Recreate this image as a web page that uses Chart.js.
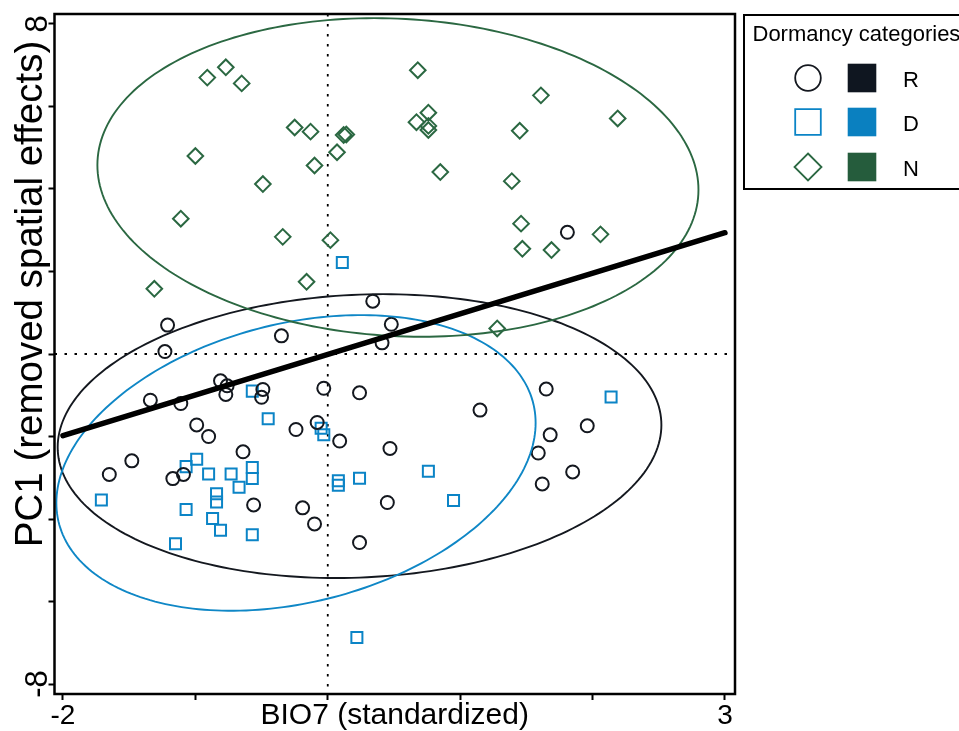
<!DOCTYPE html>
<html><head><meta charset="utf-8">
<script src="https://cdn.jsdelivr.net/npm/chart.js@4/dist/chart.umd.min.js"></script>
<style>html,body{margin:0;padding:0;background:#fff;overflow:hidden}#wrap{width:959px;height:731px;position:relative}</style>
</head><body><div id="wrap"><canvas id="c" width="959" height="731"></canvas></div>
<script>
// ---- data ----
const groups = ['R', 'D', 'N'];
const rX = [1.81,0.34,-1.21,-0.35,0.48,0.41,-1.23,-0.81,-0.76,-0.77,-0.49,-0.50,-0.03,0.24,-1.34,-1.11,-0.99,-0.90,-0.24,-0.08,0.09,-0.64,0.47,-1.48,-1.65,-1.17,-1.09,-0.56,-0.19,-0.10,0.24,0.45,1.15,1.65,1.68,1.59,1.96,1.85,1.62];
const rY = [2.95,1.28,0.70,0.44,0.72,0.27,0.06,-0.65,-0.77,-0.98,-0.86,-1.05,-0.83,-0.94,-1.12,-1.20,-1.72,-2.00,-1.83,-1.66,-2.11,-2.37,-2.29,-2.59,-2.92,-3.02,-2.92,-3.66,-3.73,-4.12,-4.57,-3.60,-1.36,-0.85,-1.96,-2.40,-1.74,-2.86,-3.15];
const dX = [0.11,-0.57,-0.45,-0.05,-0.03,-0.99,-1.07,-0.90,-0.73,-0.57,-0.57,-0.67,-0.84,-0.84,-1.71,-1.07,-0.87,-0.81,-0.57,-1.15,0.08,0.08,0.24,2.14,0.76,0.95,0.22];
const dY = [2.22,-0.90,-1.57,-1.80,-1.96,-2.55,-2.73,-2.91,-2.91,-2.75,-3.02,-3.23,-3.39,-3.59,-3.54,-3.77,-3.99,-4.27,-4.38,-4.60,-3.07,-3.18,-3.01,-1.04,-2.84,-3.55,-6.87];
const nX = [-0.91,-0.77,-0.65,-0.25,-0.13,0.12,0.14,0.07,-1.00,-0.10,-0.49,-1.11,-0.34,0.02,-0.16,-1.31,0.68,1.61,2.19,0.76,0.67,0.76,0.76,1.45,0.85,1.39,1.46,2.06,1.47,1.69,1.28];
const nY = [6.70,6.95,6.56,5.49,5.39,5.31,5.32,4.89,4.80,4.57,4.12,3.28,2.84,2.76,1.75,1.58,6.88,6.27,5.71,5.85,5.62,5.53,5.43,5.41,4.41,4.19,3.16,2.90,2.55,2.52,0.62];
const lineX = [-2, 3];
const lineY = [-1.98, 2.94];
// ellipses (R, D, N): centre, half-width vector (ux, uy), vertical conjugate half-height vy
const ellipseCX = [0.24, -0.24, 0.53];
const ellipseCY = [-1.99, -2.64, 4.28];
const ellipseUX = [2.28, 1.81, 2.27];
const ellipseUY = [0.27, 0.97, -0.30];
const ellipseVY = [3.43, 3.45, 3.85];
const xTicks = [-2, -1, 0, 1, 2, 3];
const xTickLabels = ['-2', '', '', '', '', '3'];
const yTicks = [8, 6, 4, 2, 0, -2, -4, -6, -8];
const yTickLabels = ['8', '', '', '', '', '', '', '', '-8'];
const xRange = [-2.064, 3.076];
const yRange = [-8.242, 8.242];

// ---- styles ----
const FONT = '"Liberation Sans", Arial, Helvetica, sans-serif';
const pointColors = ['#14181f', '#0b84c6', '#2b6842'];
const fillColors = ['#0f1620', '#0a80c0', '#255c3c'];
const ellipseColors = ['#14181f', '#0f87c6', '#2b6842'];
const pointStyles = ['circle', 'rect', 'rectRot'];
const pointRadii = [6.5, 7.8, 7.8];

function pts(xs, ys) { return xs.map((v, i) => ({ x: v, y: ys[i] })); }
const seriesX = [rX, dX, nX], seriesY = [rY, dY, nY];

const datasets = groups.map((g, i) => ({
  type: 'scatter', label: g, data: pts(seriesX[i], seriesY[i]),
  pointStyle: pointStyles[i], pointRadius: pointRadii[i], pointHoverRadius: pointRadii[i],
  pointBorderColor: pointColors[i], pointBackgroundColor: 'rgba(0,0,0,0)', pointBorderWidth: 2,
  showLine: false, order: 1
}));
datasets.push({
  type: 'line', label: 'fit', data: pts(lineX, lineY), borderColor: '#000', borderWidth: 5.5,
  pointRadius: 0, borderCapStyle: 'round', fill: false, tension: 0, order: -1
});

const extras = {
  id: 'extras',
  beforeDatasetsDraw(chart) {
    const { ctx, chartArea: a, scales: { x, y } } = chart;
    ctx.save();
    ctx.strokeStyle = '#000'; ctx.lineWidth = 1.8; ctx.setLineDash([2.5, 7.5]);
    const x0 = x.getPixelForValue(0), y0 = y.getPixelForValue(0);
    ctx.beginPath(); ctx.moveTo(x0, a.top); ctx.lineTo(x0, a.bottom); ctx.stroke();
    ctx.beginPath(); ctx.moveTo(a.left, y0); ctx.lineTo(a.right, y0); ctx.stroke();
    ctx.restore();
  },
  beforeDatasetDraw(chart, args) {
    if (args.index !== 3) return;
    const { ctx, chartArea: a, scales: { x, y } } = chart;
    ctx.save();
    ctx.beginPath(); ctx.rect(a.left, a.top, a.right - a.left, a.bottom - a.top); ctx.clip();
    ctx.lineWidth = 1.9;
    for (let k = 0; k < 3; k++) {
      ctx.strokeStyle = ellipseColors[k];
      ctx.beginPath();
      const n = 240;
      for (let j = 0; j <= n; j++) {
        const t = j / n * Math.PI * 2;
        const vx = ellipseCX[k] + ellipseUX[k] * Math.cos(t);
        const vy = ellipseCY[k] + ellipseUY[k] * Math.cos(t) + ellipseVY[k] * Math.sin(t);
        const px = x.getPixelForValue(vx), py = y.getPixelForValue(vy);
        if (j === 0) ctx.moveTo(px, py); else ctx.lineTo(px, py);
      }
      ctx.closePath(); ctx.stroke();
    }
    ctx.restore();
  },
  afterDraw(chart) {
    const { ctx, chartArea: a, scales: { y } } = chart;
    ctx.save();
    // plot box
    ctx.strokeStyle = '#000'; ctx.lineWidth = 2.5;
    ctx.strokeRect(a.left, a.top, a.right - a.left, a.bottom - a.top);
    // rotated y tick labels
    ctx.fillStyle = '#000';
    ctx.font = '31px ' + FONT;
    ctx.textAlign = 'center'; ctx.textBaseline = 'alphabetic';
    yTicks.forEach((v, i) => {
      if (!yTickLabels[i]) return;
      ctx.save();
      ctx.translate(a.left - 8, y.getPixelForValue(v));
      ctx.rotate(-Math.PI / 2);
      ctx.fillText(yTickLabels[i], 0, 0);
      ctx.restore();
    });
    // y title
    ctx.save();
    ctx.font = '38.5px ' + FONT;
    ctx.textBaseline = 'middle';
    ctx.translate(31, 294);
    ctx.rotate(-Math.PI / 2);
    ctx.fillText('PC1 (removed spatial effects)', 0, 0);
    ctx.restore();
    // legend
    const L = a.right + 9, T = a.top + 1;
    ctx.lineWidth = 2; ctx.strokeStyle = '#000';
    ctx.strokeRect(L, T, 240, 174);
    ctx.font = '22px ' + FONT; ctx.textAlign = 'left'; ctx.textBaseline = 'middle';
    ctx.fillText('Dormancy categories', L + 8.5, T + 20);
    const rowY = [T + 63, T + 107, T + 152];
    const symX = L + 64, boxX = L + 118, labX = L + 159;
    for (let k = 0; k < 3; k++) {
      const cy = rowY[k];
      ctx.strokeStyle = pointColors[k]; ctx.lineWidth = 1.8;
      ctx.beginPath();
      if (k === 0) ctx.arc(symX, cy, 12.8, 0, Math.PI * 2);
      else if (k === 1) ctx.rect(symX - 12.8, cy - 12.8, 25.6, 25.6);
      else { ctx.moveTo(symX, cy - 13.5); ctx.lineTo(symX + 13.5, cy); ctx.lineTo(symX, cy + 13.5); ctx.lineTo(symX - 13.5, cy); ctx.closePath(); }
      ctx.stroke();
      ctx.fillStyle = fillColors[k];
      ctx.fillRect(boxX - 14.3, cy - 14.3, 28.6, 28.6);
      ctx.fillStyle = '#000';
      ctx.fillText(groups[k], labX, cy + 3);
    }
    ctx.restore();
  }
};

new Chart(document.getElementById('c'), {
  type: 'scatter',
  data: { datasets },
  options: {
    responsive: false, animation: false, devicePixelRatio: 1,
    layout: { padding: { left: 0, top: 14, right: 224, bottom: 0 } },
    plugins: { legend: { display: false }, tooltip: { enabled: false } },
    events: [],
    scales: {
      x: {
        type: 'linear', min: xRange[0], max: xRange[1],
        afterBuildTicks: s => { s.ticks = xTicks.map(v => ({ value: v })); },
        afterFit: s => { s.height = 37; },
        border: { display: false },
        grid: { drawOnChartArea: false, drawTicks: true, tickLength: 6, tickWidth: 2, color: '#000' },
        ticks: { color: '#000', font: { size: 28, family: FONT }, padding: -1, maxRotation: 0, autoSkip: false,
          callback: (v, i) => xTickLabels[i] },
        title: { display: true, text: 'BIO7 (standardized)', color: '#000', font: { size: 30, family: FONT }, padding: { top: 0, bottom: -3 } }
      },
      y: {
        type: 'linear', min: yRange[0], max: yRange[1],
        afterBuildTicks: s => { s.ticks = yTicks.map(v => ({ value: v })); },
        afterFit: s => { s.width = 54.5; },
        border: { display: false },
        grid: { drawOnChartArea: false, drawTicks: true, tickLength: 6, tickWidth: 2, color: '#000' },
        ticks: { display: false }
      }
    }
  },
  plugins: [extras]
});
</script>
</body></html>
